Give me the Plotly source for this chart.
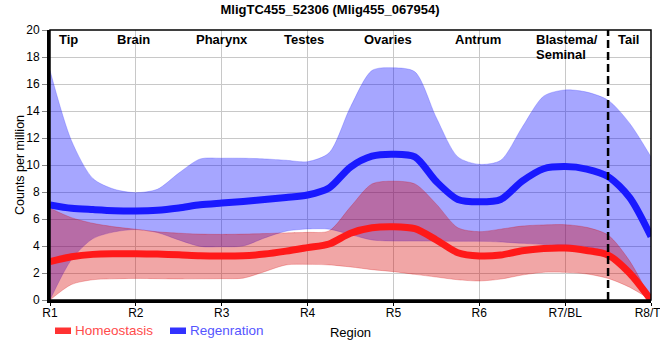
import plotly.graph_objects as go

# ---- data (region index positions along body, R1=0 ... R8=7) ----
positions = [0, 0.25, 0.5, 0.75, 1, 1.25, 1.5, 1.75, 2, 2.25, 2.5, 2.75, 3, 3.25, 3.5,
             3.75, 4, 4.25, 4.5, 4.75, 5, 5.25, 5.5, 5.75, 6, 6.25, 6.5, 6.75, 7]

regen_upper = [17.0, 11.8, 9.0, 8.2, 7.95, 8.2, 9.4, 10.45, 10.5, 10.5, 10.45, 10.35, 10.25, 10.9, 14.3,
               17.0, 17.2, 16.9, 13.5, 10.6, 10.05, 10.35, 12.8, 15.1, 15.56, 15.4, 14.8, 13.1, 10.6]
regen_mean = [7.05, 6.8, 6.7, 6.62, 6.6, 6.65, 6.82, 7.05, 7.18, 7.3, 7.45, 7.6, 7.78, 8.3, 9.85,
              10.65, 10.8, 10.6, 8.77, 7.45, 7.28, 7.45, 8.8, 9.72, 9.88, 9.7, 9.14, 7.6, 4.7]
regen_lower = [0.0, 3.0, 4.55, 5.05, 5.22, 5.0, 4.45, 3.97, 3.95, 4.0, 4.6, 5.1, 5.26, 5.25, 4.85,
               4.45, 4.37, 4.37, 4.36, 4.35, 4.35, 4.3, 4.2, 4.12, 4.07, 3.95, 3.5, 2.2, 0.0]

homeo_upper = [6.8, 6.1, 5.68, 5.42, 5.24, 5.05, 4.95, 4.88, 4.86, 4.88, 4.92, 4.97, 5.01, 5.12, 6.9,
               8.6, 8.8, 8.6, 7.1, 5.35, 5.06, 5.25, 5.48, 5.56, 5.58, 5.38, 4.81, 2.9, 0.0]
homeo_mean = [2.85, 3.2, 3.38, 3.42, 3.42, 3.4, 3.35, 3.28, 3.26, 3.27, 3.4, 3.62, 3.88, 4.15, 4.95,
              5.35, 5.43, 5.28, 4.45, 3.5, 3.26, 3.33, 3.65, 3.82, 3.85, 3.67, 3.33, 2.0, 0.0]
homeo_lower = [0.0, 1.15, 1.5, 1.57, 1.6, 1.58, 1.56, 1.57, 1.58, 1.62, 2.1, 2.6, 2.64, 2.6, 2.45,
               2.25, 2.1, 1.9, 1.7, 1.5, 1.41, 1.55, 1.85, 2.05, 2.05, 1.93, 1.6, 0.95, 0.0]

tick_positions = [0, 1, 2, 3, 4, 5, 6, 7]
tick_labels = ["R1", "R2", "R3", "R4", "R5", "R6", "R7/BL", "R8/TL"]

region_names = ["Tip", "Brain", "Pharynx", "Testes", "Ovaries", "Antrum", "Tail"]
region_label_pos = [0.22, 0.97, 2.0, 2.96, 3.94, 4.98, 6.74]
blastema_lines = ["Blastema/", "Seminal"]
blastema_left = 5.64

boundary_pos = 6.5
series_names = ["Homeostasis", "Regenration"]

FONT = "Liberation Sans, Arial, sans-serif"
SM = 0.8

fig = go.Figure()

# Regeneration band
fig.add_trace(go.Scatter(x=positions, y=regen_lower, mode="lines",
                         line=dict(color="rgba(60,60,255,0.35)", width=0.8, shape="spline", smoothing=SM),
                         showlegend=False, hoverinfo="skip"))
fig.add_trace(go.Scatter(x=positions, y=regen_upper, mode="lines", fill="tonexty",
                         fillcolor="rgba(0,0,255,0.35)",
                         line=dict(color="rgba(60,60,255,0.35)", width=0.8, shape="spline", smoothing=SM),
                         showlegend=False, hoverinfo="skip"))
# Homeostasis band
fig.add_trace(go.Scatter(x=positions, y=homeo_lower, mode="lines",
                         line=dict(color="rgba(215,0,0,0.3)", width=0.8, shape="spline", smoothing=SM),
                         showlegend=False, hoverinfo="skip"))
fig.add_trace(go.Scatter(x=positions, y=homeo_upper, mode="lines", fill="tonexty",
                         fillcolor="rgba(215,0,0,0.35)",
                         line=dict(color="rgba(215,0,0,0.3)", width=0.8, shape="spline", smoothing=SM),
                         showlegend=False, hoverinfo="skip"))
# Means
fig.add_trace(go.Scatter(x=positions, y=homeo_mean, mode="lines", name=series_names[0],
                         line=dict(color="rgb(255,25,25)", width=7, shape="spline", smoothing=SM),
                         showlegend=False))
fig.add_trace(go.Scatter(x=positions, y=regen_mean, mode="lines", name=series_names[1],
                         line=dict(color="rgb(25,25,255)", width=7, shape="spline", smoothing=SM),
                         showlegend=False))

shapes = [
    dict(type="line", xref="x", yref="y", x0=boundary_pos, x1=boundary_pos, y0=0, y1=20,
         line=dict(color="black", width=2.5, dash="8px,4px")),
    dict(type="rect", xref="paper", yref="paper", x0=0, x1=1, y0=0, y1=1,
         line=dict(color="black", width=1.5)),
]

annotations = []
for name, pos in zip(region_names, region_label_pos):
    annotations.append(dict(x=pos, y=1, xref="x", yref="paper", text="<b>" + name + "</b>",
                            showarrow=False, xanchor="center", yanchor="top", yshift=0,
                            font=dict(family=FONT, size=13, color="black")))
for k, line in enumerate(blastema_lines):
    annotations.append(dict(x=blastema_left, y=1, xref="x", yref="paper", text="<b>" + line + "</b>",
                            showarrow=False, xanchor="left", yanchor="top", yshift=-15 * k,
                            font=dict(family=FONT, size=13, color="black")))

# manual legend (pixel positions converted to paper coords; plot area 601x270 at (50,30))
def px2x(px):
    return (px - 50) / 601.0

def py2y(py):
    return (300 - py) / 270.0

legend_colors = ["rgb(255,50,50)", "rgb(50,50,255)"]
legend_text_colors = ["rgb(255,75,75)", "rgb(85,85,255)"]
swatch_x = [55, 170]
text_x = [74, 189]
for i in range(2):
    shapes.append(dict(type="rect", xref="paper", yref="paper",
                       x0=px2x(swatch_x[i]), x1=px2x(swatch_x[i] + 16),
                       y0=py2y(334), y1=py2y(327.5),
                       line=dict(width=0), fillcolor=legend_colors[i]))
    annotations.append(dict(x=px2x(text_x[i]), y=py2y(331), xref="paper", yref="paper",
                            text=series_names[i], showarrow=False, xanchor="left", yanchor="middle",
                            borderpad=0,
                            font=dict(family=FONT, size=13.5, color=legend_text_colors[i])))

# y-axis title
annotations.append(dict(x=px2x(20), y=0.5, xref="paper", yref="paper", text="Counts per million",
                        showarrow=False, textangle=-90, xanchor="center", yanchor="middle",
                        font=dict(family=FONT, size=12.5, color="black")))

fig.update_layout(
    width=660, height=360,
    margin=dict(l=50, r=9, t=30, b=60, autoexpand=False),
    paper_bgcolor="white", plot_bgcolor="white",
    title=dict(text="<b>MligTC455_52306 (Mlig455_067954)</b>", x=0.5, xref="container",
               y=1 - 9 / 360, yref="container", xanchor="center", yanchor="middle",
               font=dict(family=FONT, size=13, color="black")),
    shapes=shapes, annotations=annotations,
    showlegend=False,
    font=dict(family=FONT, size=12, color="black"),
)

fig.update_xaxes(range=[0, 7], tickvals=tick_positions, ticktext=tick_labels,
                 ticklabeloverflow="allow", automargin=False, ticklabelstandoff=-3,
                 showgrid=True, gridcolor="#c8c8c8", gridwidth=1,
                 showline=True, linecolor="black", linewidth=3,
                 ticks="outside", ticklen=3, tickcolor="black", tickwidth=1,
                 tickfont=dict(family=FONT, size=12, color="black"),
                 title=dict(text="Region", standoff=9, font=dict(family=FONT, size=13, color="black")),
                 zeroline=False)
fig.update_yaxes(range=[0, 20], tickvals=list(range(0, 21, 2)), automargin=False,
                 showgrid=True, gridcolor="#c8c8c8", gridwidth=1,
                 showline=True, linecolor="black", linewidth=3,
                 ticks="outside", ticklen=5, tickcolor="#888888", tickwidth=1,
                 tickfont=dict(family=FONT, size=12, color="black"),
                 zeroline=False)

fig.write_html("out.html", config={"displayModeBar": False},
               post_script="document.body.style.margin='0px';document.body.style.padding='0px';")
